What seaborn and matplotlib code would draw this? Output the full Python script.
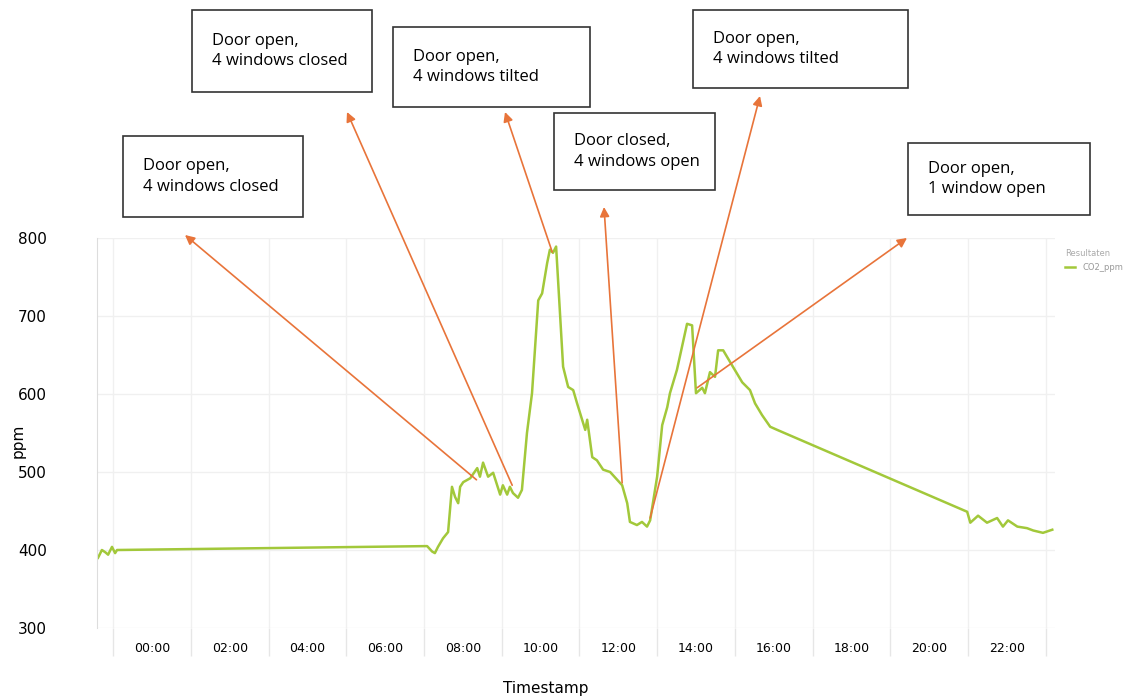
import matplotlib
matplotlib.use('Agg')
import numpy as np
import pandas as pd
import seaborn as sns
import matplotlib.pyplot as plt
from matplotlib.patches import Rectangle

# CO2 readings (hour of day, ppm)
hours = [-1.39, -1.29, -1.20, -1.13, -1.03, -0.95, -0.90, 7.08, 7.21, 7.28, 7.36, 7.49,
         7.62, 7.72, 7.80, 7.88, 7.93, 8.01, 8.19, 8.37, 8.44, 8.52, 8.65, 8.78, 8.96,
         9.03, 9.14, 9.21, 9.29, 9.42, 9.52, 9.65, 9.78, 9.94, 10.04, 10.17, 10.24,
         10.32, 10.40, 10.58, 10.71, 10.84, 10.94, 11.15, 11.20, 11.33, 11.45, 11.61,
         11.79, 12.10, 12.23, 12.30, 12.48, 12.61, 12.74, 12.82, 13.00, 13.13, 13.26,
         13.33, 13.51, 13.77, 13.90, 14.00, 14.16, 14.23, 14.36, 14.49, 14.57, 14.70,
         14.95, 15.19, 15.39, 15.52, 15.70, 15.91, 16.09, 20.98, 21.06, 21.26, 21.49,
         21.75, 21.90, 22.03, 22.27, 22.52, 22.68, 22.93, 23.17]
co2_ppm = [390, 400, 397, 394, 404, 396, 400, 405, 398, 396, 404, 415,
           423, 481, 468, 460, 481, 487, 492, 505, 494, 512, 494, 499, 471,
           483, 471, 481, 473, 467, 477, 550, 601, 720, 729, 768, 785,
           781, 789, 635, 609, 605, 588, 554, 567, 519, 515, 503,
           500, 483, 460, 436, 432, 436, 430, 438, 494, 560, 583,
           601, 631, 690, 688, 601, 608, 601, 628, 622, 656, 656,
           635, 615, 605, 588, 573, 558, 554, 449, 435, 444, 435,
           441, 430, 438, 430, 428, 425, 422, 426]

tick_hours = list(range(0, 24, 2))
tick_labels = ['%02d:00' % h for h in tick_hours]

# annotations: text, point on curve (hour, ppm)
notes = ['Door open,\n4 windows closed', 'Door open,\n4 windows closed',
         'Door open,\n4 windows tilted', 'Door closed,\n4 windows open',
         'Door open,\n4 windows tilted', 'Door open,\n1 window open']
note_hour = [8.35, 9.27, 10.30, 12.10, 12.82, 14.03]
note_ppm = [490, 483, 782, 486, 441, 608]

df = pd.DataFrame({'Timestamp': hours, 'CO2_ppm': co2_ppm})

W, H = 1128, 696
fig = plt.figure(figsize=(W / 100, H / 100), dpi=100)
ax = fig.add_axes([97 / W, 1 - 628 / H, (1055 - 97) / W, 390 / H])

sns.lineplot(data=df, x='Timestamp', y='CO2_ppm', ax=ax, color='#a2c83a',
             linewidth=1.8, estimator=None, label='CO2_ppm')

ax.set_xlim(-1.416, 23.24)
ax.set_ylim(300, 800)
ax.set_yticks([300, 400, 500, 600, 700, 800])
ax.set_xticks(tick_hours)
ax.set_xticklabels(tick_labels, fontsize=9)
ax.set_xticks(np.arange(-1, 24, 2), minor=True)
ax.tick_params(axis='x', which='major', length=0, pad=10)
ax.tick_params(axis='x', which='minor', length=20, color='#e6e6e6', width=1)
ax.tick_params(axis='y', length=0, pad=36, labelsize=11)
ax.grid(axis='y', color='#f0f0f0', linewidth=1)
ax.grid(axis='x', which='minor', color='#f0f0f0', linewidth=1)
for s in ['top', 'right', 'bottom']:
    ax.spines[s].set_visible(False)
ax.spines['left'].set_color('#dddddd')
ax.set_xlabel('Timestamp', fontsize=11)
ax.set_ylabel('ppm', fontsize=11)
ax.xaxis.set_label_coords(0.468, -0.135)
ax.yaxis.set_label_coords(-0.074, 0.48)

ax.legend(title='Resultaten', loc='upper left', bbox_to_anchor=(1.003, 0.99),
          frameon=False, fontsize=6, title_fontsize=6, labelcolor='#999999',
          handlelength=1.2, alignment='left')
ax.get_legend().get_title().set_color('#aaaaaa')

# boxes in image pixels: left, top, right, bottom ; arrow head in image pixels
boxes = [(123, 136, 303, 217), (192, 10, 372, 92), (393, 27, 590, 107),
         (554, 113, 715, 190), (693, 10, 908, 88), (908, 143, 1090, 215)]
heads = [(185, 235), (347, 112), (505, 112), (604, 207), (760, 96), (907, 238)]

for text, (l, t, r, b), (hx, hy), nh, npm in zip(notes, boxes, heads, note_hour, note_ppm):
    fig.patches.append(Rectangle((l / W, 1 - b / H), (r - l) / W, (b - t) / H,
                                 transform=fig.transFigure, fill=False,
                                 edgecolor='#333333', linewidth=1.2))
    fig.text((l + 20) / W, 1 - (t + 0.5 * (b - t)) / H, text, fontsize=12,
             va='center', ha='left', family='Open Sans', linespacing=1.35)
    ax.annotate('', xy=(hx / W, 1 - hy / H), xycoords='figure fraction',
                xytext=(nh, npm), textcoords='data',
                arrowprops=dict(arrowstyle='-|>', color='#e8743a', lw=1.2,
                                mutation_scale=14, shrinkA=0, shrinkB=0),
                annotation_clip=False)

fig.savefig('out.png', dpi=100)
